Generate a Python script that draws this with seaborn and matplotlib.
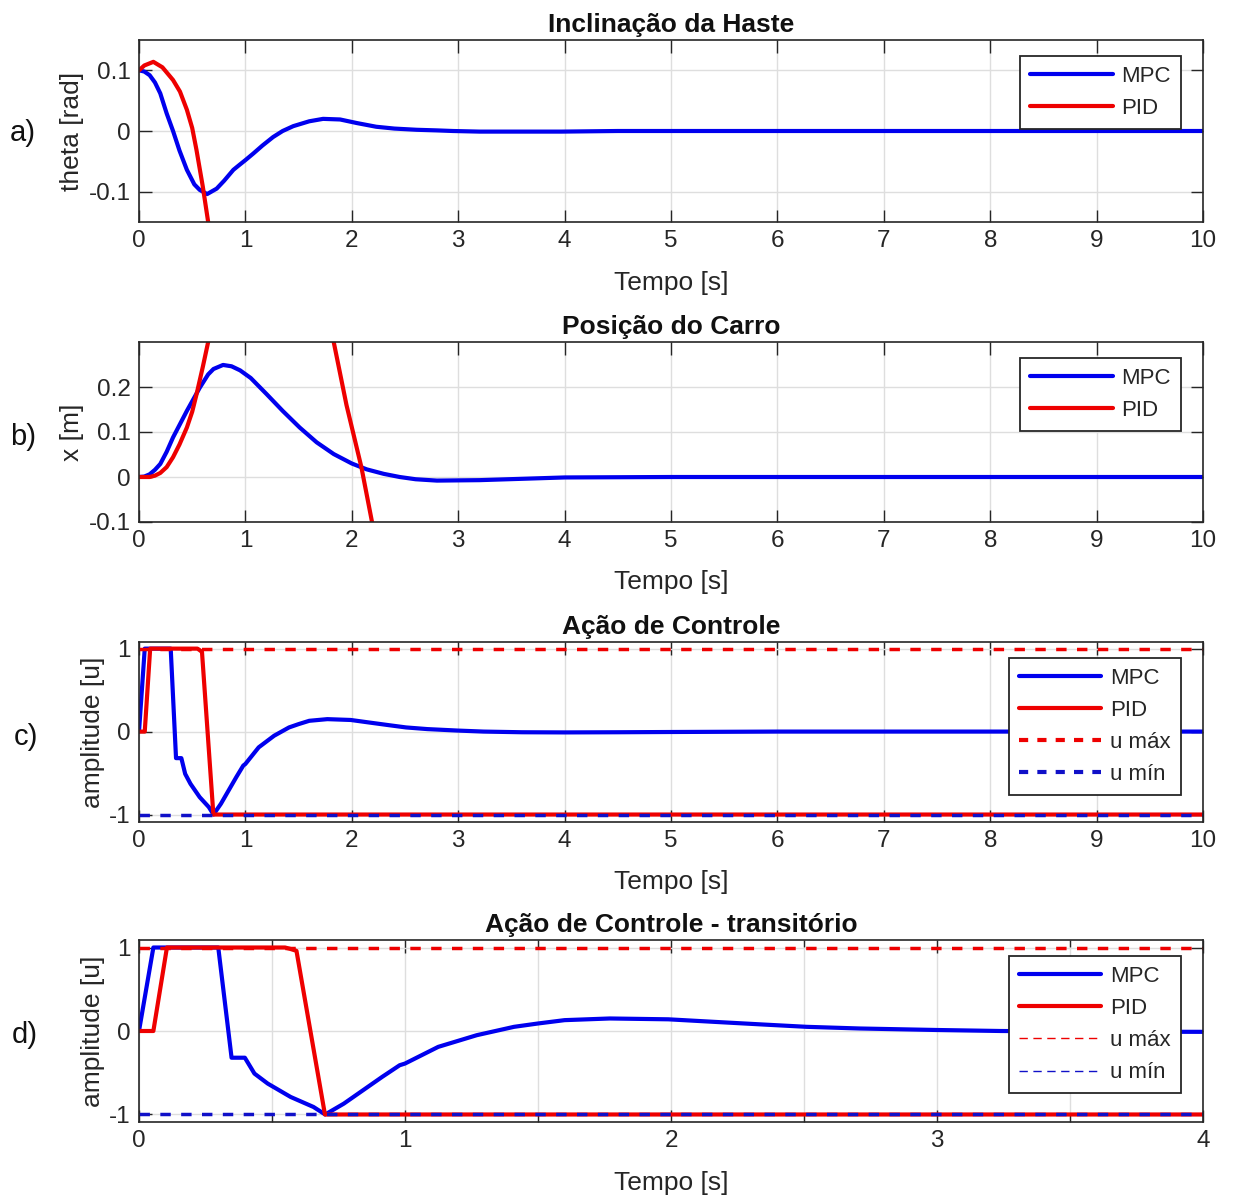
import numpy as np
import pandas as pd
import matplotlib
matplotlib.use("Agg")
import matplotlib.pyplot as plt
from matplotlib.lines import Line2D
from matplotlib.ticker import MultipleLocator
import seaborn as sns

# ---------------- data ----------------
# a) pendulum angle
t_theta_mpc = [0, 0.05, 0.1, 0.15, 0.2, 0.26, 0.32, 0.38, 0.45, 0.52, 0.57, 0.64, 0.73,
               0.8, 0.887, 0.95, 1.0, 1.075, 1.16, 1.26, 1.35, 1.45, 1.6, 1.73, 1.89,
               2.05, 2.23, 2.4, 2.61, 2.8, 2.95, 3.2, 3.6, 3.97, 4.5, 6, 8, 10]
theta_mpc = [0.1, 0.098, 0.092, 0.08, 0.062, 0.029, 0.0, -0.032, -0.064, -0.088,
             -0.097, -0.104, -0.095, -0.082, -0.064, -0.055, -0.048, -0.037, -0.024,
             -0.01, 0.0, 0.008, 0.016, 0.02, 0.019, 0.013, 0.007, 0.004, 0.002, 0.001,
             0.0, -0.001, -0.001, -0.001, 0.0, 0.0, 0.0, 0.0]
t_theta_pid = [0, 0.05, 0.135, 0.22, 0.32, 0.385, 0.45, 0.5, 0.54, 0.6, 0.65, 0.7]
theta_pid = [0.1, 0.108, 0.114, 0.105, 0.084, 0.065, 0.035, 0.005, -0.031, -0.092,
             -0.15, -0.22]

# b) cart position
t_x_mpc = [0, 0.05, 0.1, 0.15, 0.2, 0.26, 0.32, 0.45, 0.57, 0.65, 0.7, 0.79, 0.87,
           0.95, 1.05, 1.2, 1.35, 1.51, 1.67, 1.83, 2.0, 2.14, 2.3, 2.45, 2.6, 2.8,
           3.2, 3.6, 4.0, 5, 10]
x_mpc = [0, 0.001, 0.006, 0.016, 0.029, 0.056, 0.088, 0.147, 0.198, 0.228, 0.240,
         0.249, 0.246, 0.237, 0.220, 0.184, 0.147, 0.11, 0.077, 0.051, 0.03, 0.017,
         0.007, 0.0, -0.005, -0.008, -0.007, -0.004, -0.001, 0.0, 0.0]
t_x_pid = [0, 0.1, 0.15, 0.2, 0.26, 0.32, 0.38, 0.45, 0.5, 0.54, 0.6, 0.65, 0.75, 0.9,
           1.1, 1.3, 1.5, 1.7, 1.83, 1.95, 2.09, 2.19, 2.3]
x_pid = [0, 0.0, 0.003, 0.009, 0.022, 0.044, 0.072, 0.11, 0.145, 0.183, 0.245, 0.30,
         0.42, 0.58, 0.70, 0.74, 0.66, 0.46, 0.30, 0.16, 0.022, -0.1, -0.24]

# c) / d) control action
t_u_mpc = [0, 0.054, 0.298, 0.348, 0.398, 0.434, 0.484, 0.57, 0.656, 0.70, 0.77,
           0.842, 0.914, 0.98, 1.0, 1.125, 1.27, 1.41, 1.5, 1.6, 1.77, 1.99, 2.16,
           2.35, 2.51, 2.71, 3.0, 3.24, 3.6, 4.0, 4.5, 5.0, 6.0, 10.0]
u_mpc = [0, 1, 1, -0.32, -0.32, -0.51, -0.63, -0.79, -0.91, -1.0, -0.87, -0.71,
         -0.55, -0.41, -0.39, -0.19, -0.05, 0.05, 0.09, 0.13, 0.15, 0.14, 0.11,
         0.077, 0.05, 0.03, 0.012, 0.0, -0.008, -0.01, -0.008, -0.005, 0.0, 0.0]
t_u_pid = [0, 0.054, 0.105, 0.549, 0.567, 0.592, 0.699, 10.0]
u_pid = [0, 0, 1, 1, 0.985, 0.96, -1, -1]
u_max = 1.0
u_min = -1.0

titles = ["Inclinação da Haste", "Posição do Carro", "Ação de Controle",
          "Ação de Controle - transitório"]
ylabels = ["theta [rad]", "x [m]", "amplitude [u]", "amplitude [u]"]
panel_tags = ["a)", "b)", "c)", "d)"]
xlabel = "Tempo [s]"

# ---------------- style ----------------
sns.set_theme(style="whitegrid")
plt.rcParams["font.family"] = ["Liberation Sans", "DejaVu Sans"]
plt.rcParams["axes.edgecolor"] = "#262626"
plt.rcParams["axes.linewidth"] = 1.2
plt.rcParams["grid.color"] = "#dedede"
plt.rcParams["grid.linewidth"] = 1.0

BLUE = "#0000ee"
RED = "#ee0000"
W, H = 1233, 1198
fig = plt.figure(figsize=(W / 100, H / 100), dpi=100)

# axes boxes in pixels: (left, top, right, bottom)
boxes = [(139, 40, 1203, 222), (139, 342, 1203, 522),
         (139, 642, 1203, 822), (139, 940, 1203, 1122)]
axes = []
for (l, t, r, b) in boxes:
    ax = fig.add_axes([l / W, 1 - b / H, (r - l) / W, (b - t) / H])
    axes.append(ax)

def line(ax, x, y, color, lw=3.0, ls="-"):
    df = pd.DataFrame({"t": x, "v": y})
    sns.lineplot(data=df, x="t", y="v", ax=ax, color=color, lw=lw, ls=ls,
                 sort=False, estimator=None, legend=False)

# a
line(axes[0], t_theta_mpc, theta_mpc, BLUE)
line(axes[0], t_theta_pid, theta_pid, RED)
# b
line(axes[1], t_x_mpc, x_mpc, BLUE)
line(axes[1], t_x_pid, x_pid, RED)
# c, d
for ax in axes[2:]:
    line(ax, t_u_mpc, u_mpc, BLUE)
    line(ax, t_u_pid, u_pid, RED)
    ax.axhline(u_max, color=RED, lw=2.5, ls=(0, (3, 3)))
    ax.axhline(u_min, color="#1010c8", lw=2.5, ls=(0, (3, 3)))

ylims = [(-0.15, 0.15), (-0.1, 0.3), (-1.09, 1.08), (-1.09, 1.09)]
yticks = [[-0.1, 0, 0.1], [-0.1, 0, 0.1, 0.2], [-1, 0, 1], [-1, 0, 1]]
ytlabels = [["-0.1", "0", "0.1"], ["-0.1", "0", "0.1", "0.2"], ["-1", "0", "1"],
            ["-1", "0", "1"]]
ylab_x = [-0.052, -0.052, -0.032, -0.032]
tag_pos = [(10, 133), (10, 437), (14, 737), (12, 1035)]

for i, ax in enumerate(axes):
    xmax = 4 if i == 3 else 10
    ax.set_xlim(0, xmax)
    ax.set_ylim(*ylims[i])
    ax.set_xticks(range(0, xmax + 1))
    ax.set_xticklabels([str(v) for v in range(0, xmax + 1)])
    ax.set_yticks(yticks[i])
    ax.set_yticklabels(ytlabels[i])
    if i == 3:
        ax.xaxis.set_minor_locator(MultipleLocator(0.5))
        ax.grid(True, which="both", axis="x")
        ax.tick_params(which="minor", direction="in", length=5, top=True,
                       bottom=True, color="#262626")
    ax.grid(True, which="major")
    ax.tick_params(which="major", direction="in", length=9, width=1.0,
                   top=True, right=True, bottom=True, left=True,
                   labelsize=17.5, colors="#262626", pad=6)
    for s in ax.spines.values():
        s.set_visible(True)
        s.set_color("#262626")
    ax.set_xlabel(xlabel, fontsize=19, color="#262626")
    ax.xaxis.set_label_coords(0.5, -0.268)
    ax.set_ylabel(ylabels[i], fontsize=19, color="#262626")
    ax.yaxis.set_label_coords(ylab_x[i], 0.5)
    ax.set_title(titles[i], fontsize=19, fontweight="bold", pad=6, color="#111111")
    fig.text(tag_pos[i][0] / W, 1 - tag_pos[i][1] / H, panel_tags[i],
             fontsize=21, va="center", ha="left", color="#111111")

    handles = [Line2D([], [], color=BLUE, lw=3), Line2D([], [], color=RED, lw=3)]
    labels = ["MPC", "PID"]
    if i == 2:
        handles += [Line2D([], [], color=RED, lw=3, ls=(0, (2.2, 2.2))),
                    Line2D([], [], color="#1010c8", lw=3, ls=(0, (2.2, 2.2)))]
        labels += ["u máx", "u mín"]
    elif i == 3:
        handles += [Line2D([], [], color=RED, lw=1, ls=(0, (6, 4))),
                    Line2D([], [], color="#1010c8", lw=1, ls=(0, (6, 4)))]
        labels += ["u máx", "u mín"]
    leg = ax.legend(handles, labels, loc="upper right",
                    bbox_to_anchor=(1 - 22 / 1064, 1 - 16 / 182),
                    fontsize=16, handlelength=3.7, handletextpad=0.4,
                    labelspacing=0.5, borderpad=0.45, borderaxespad=0,
                    fancybox=False, framealpha=1, edgecolor="#262626",
                    facecolor="white")
    leg.get_frame().set_linewidth(1.3)

fig.savefig("out.png", dpi=100, facecolor="white")
